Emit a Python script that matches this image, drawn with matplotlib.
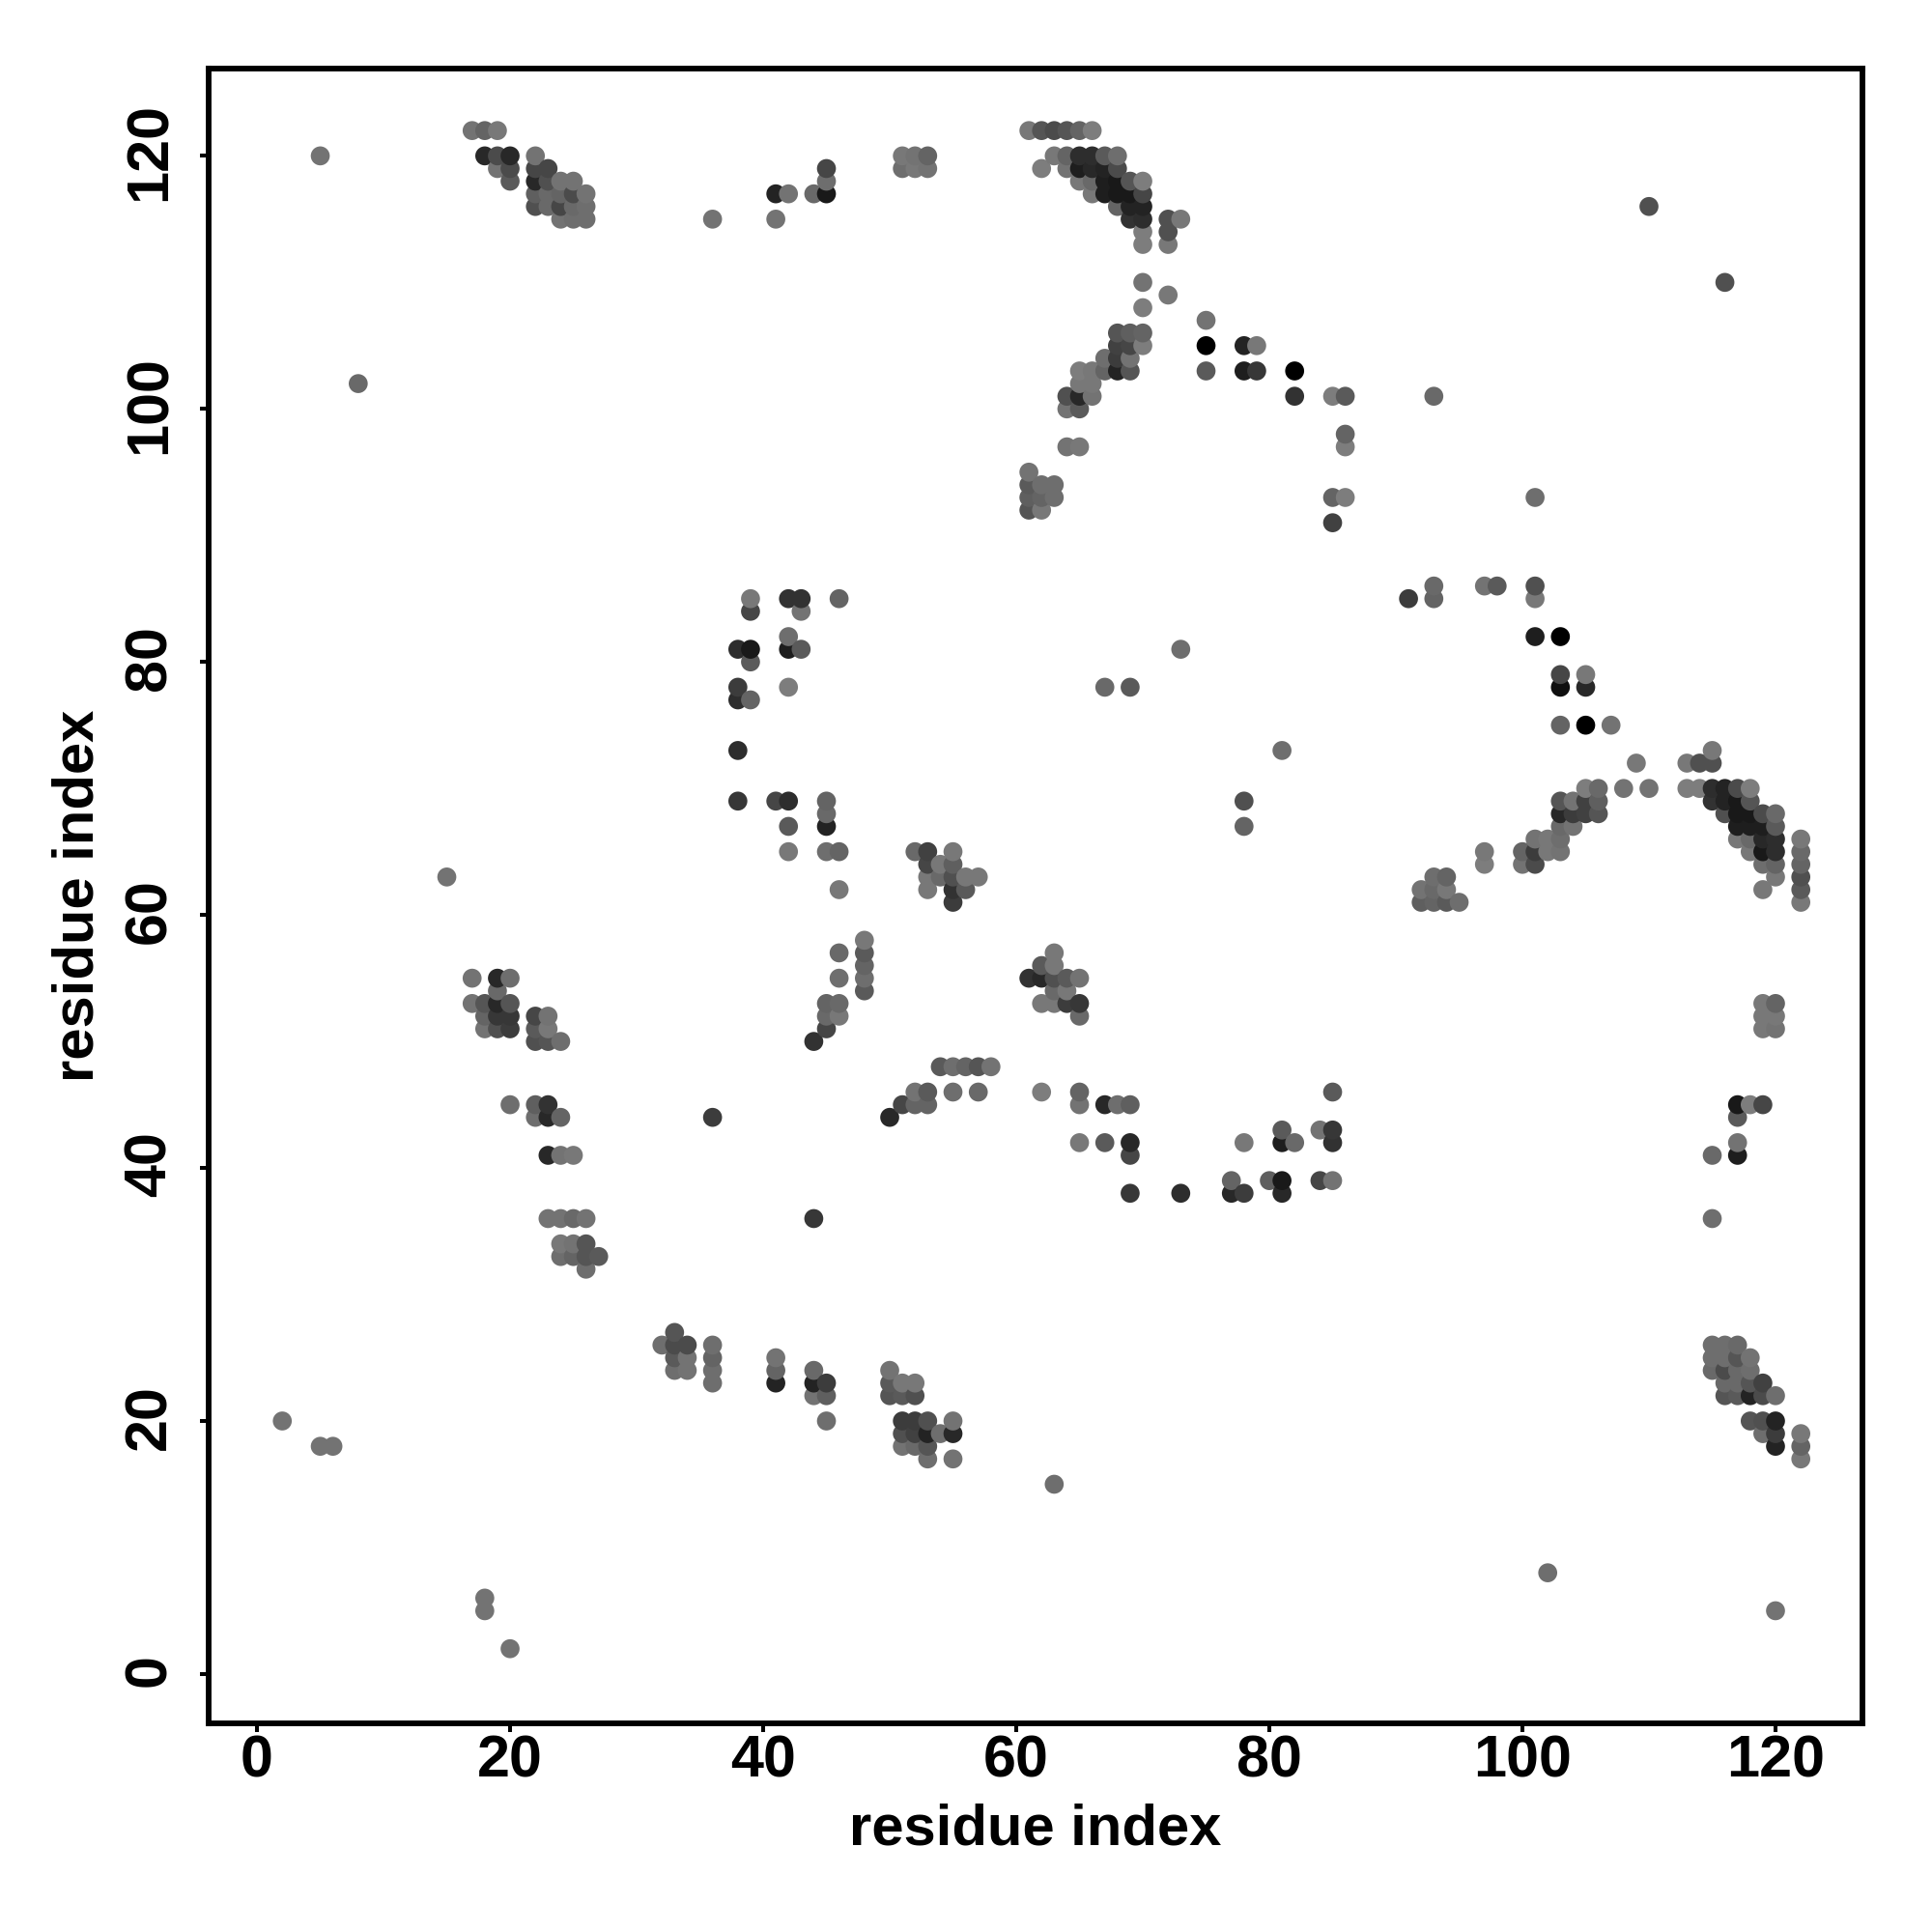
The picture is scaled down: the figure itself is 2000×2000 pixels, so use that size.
# Residue contact map, grey level = contact strength
import numpy as np
import matplotlib
matplotlib.use("Agg")
import matplotlib.pyplot as plt
from matplotlib.transforms import ScaledTranslation

plt.rcParams['font.family'] = ['Liberation Sans', 'DejaVu Sans']

# Contacts row by row: y residue, then x residues and grey (0-255) of each dot
rows = [122, 120, 119, 118, 117, 116, 115, 114, 113, 110, 109, 108, 107, 106, 105,
        104, 103, 102, 101, 100, 98, 97, 95, 94, 93, 92, 91, 86, 85, 84, 82, 81, 80,
        79, 78, 77, 75, 73, 72, 70, 69, 68, 67, 66, 65, 64, 63, 62, 61,
        58, 57, 56, 55, 54, 53, 52, 51, 50, 48, 46, 45, 44, 43, 42, 41, 39, 38, 36,
        34, 33, 32, 27, 26, 25, 24, 23, 22, 20, 19, 18, 17, 15, 8, 6, 5, 2]
row_x = [
    [17, 18, 19, 61, 62, 63, 64, 65, 66],
    [5, 18, 19, 20, 22, 51, 52, 53, 63, 64, 65, 66, 67, 68],
    [19, 20, 22, 23, 45, 51, 52, 53, 62, 64, 65, 66, 67, 68],
    [20, 22, 23, 24, 25, 45, 65, 66, 67, 68, 69, 70],
    [22, 23, 24, 25, 26, 41, 42, 44, 45, 66, 67, 68, 69, 70],
    [22, 23, 24, 25, 26, 68, 69, 70, 110],
    [24, 25, 26, 36, 41, 69, 70, 72, 73],
    [70, 72],
    [70, 72],
    [70, 116],
    [72],
    [70],
    [75],
    [68, 69, 70],
    [68, 69, 70, 75, 78, 79],
    [67, 68, 69],
    [65, 66, 67, 68, 69, 75, 78, 79, 82],
    [8, 65, 66],
    [64, 65, 66, 82, 85, 86, 93],
    [64, 65],
    [86],
    [64, 65, 86],
    [61],
    [61, 62, 63],
    [61, 62, 63, 85, 86, 101],
    [61, 62],
    [85],
    [93, 97, 98, 101],
    [39, 42, 43, 46, 91, 93, 101],
    [39, 43],
    [42, 101, 103],
    [38, 39, 42, 43, 73],
    [39],
    [103, 105],
    [38, 42, 67, 69, 103, 105],
    [38, 39],
    [103, 105, 107],
    [38, 81, 115],
    [109, 113, 114, 115],
    [105, 106, 108, 110, 113, 114, 115, 116, 117, 118],
    [38, 41, 42, 45, 78, 103, 104, 105, 106, 115, 116, 117, 118],
    [45, 103, 104, 105, 106, 116, 117, 118, 119, 120],
    [42, 45, 78, 103, 104, 117, 118, 119, 120],
    [101, 102, 103, 117, 118, 119, 120, 122],
    [42, 45, 46, 52, 53, 55, 97, 100, 101, 102, 103, 118, 119, 120, 122],
    [53, 54, 55, 97, 100, 101, 119, 120, 122],
    [15, 53, 54, 55, 56, 57, 93, 94, 120, 122],
    [46, 53, 55, 56, 92, 93, 94, 119, 122],
    [55, 92, 93, 94, 95, 122],
    [48],
    [46, 48, 63],
    [48, 62, 63],
    [17, 19, 20, 46, 48, 61, 62, 63, 64, 65],
    [19, 48, 63, 64],
    [17, 18, 19, 20, 45, 46, 62, 63, 64, 65, 119, 120],
    [18, 19, 20, 22, 23, 45, 46, 65, 119, 120],
    [18, 19, 20, 22, 23, 45, 119, 120],
    [22, 23, 24, 44],
    [54, 55, 56, 57, 58],
    [52, 53, 55, 57, 62, 65, 85],
    [20, 22, 23, 51, 52, 53, 65, 67, 68, 69, 117, 118, 119],
    [22, 23, 24, 36, 50, 117],
    [81, 84, 85],
    [65, 67, 69, 78, 81, 82, 85, 117],
    [23, 24, 25, 69, 115, 117],
    [77, 80, 81, 84, 85],
    [69, 73, 77, 78, 81],
    [23, 24, 25, 26, 44, 115],
    [24, 25, 26],
    [24, 25, 26, 27],
    [26],
    [33],
    [32, 33, 34, 36, 115, 116, 117],
    [33, 34, 36, 41, 115, 116, 117, 118],
    [33, 34, 36, 41, 44, 50, 115, 116, 117, 118],
    [36, 41, 44, 45, 50, 51, 52, 116, 117, 118, 119],
    [44, 45, 50, 51, 52, 116, 117, 118, 119, 120],
    [2, 45, 51, 52, 53, 55, 118, 119, 120],
    [51, 52, 53, 54, 55, 119, 120, 122],
    [5, 6, 51, 52, 53, 120, 122],
    [53, 55, 122],
    [63],
    [102],
    [18],
    [18, 120],
    [20],
]
row_shade = [
    [115, 100, 120, 120, 85, 75, 85, 100, 125],
    [115, 40, 75, 40, 115, 120, 115, 100, 120, 100, 45, 45, 90, 110],
    [115, 75, 70, 70, 70, 110, 120, 115, 125, 115, 30, 40, 35, 75],
    [90, 40, 80, 115, 115, 110, 120, 105, 30, 25, 85, 125],
    [95, 105, 100, 75, 115, 35, 115, 105, 25, 120, 30, 25, 25, 70],
    [80, 105, 70, 105, 110, 100, 35, 35, 80],
    [115, 110, 110, 115, 115, 50, 45, 80, 120],
    [125, 80],
    [125, 120],
    [115, 80],
    [120],
    [125],
    [115],
    [85, 95, 100],
    [65, 70, 125, 0, 35, 120],
    [110, 60, 115],
    [125, 120, 100, 35, 85, 90, 30, 55, 0],
    [105, 120, 120],
    [80, 40, 115, 50, 125, 90, 105],
    [115, 90],
    [100],
    [115, 120, 125],
    [115],
    [90, 110, 110],
    [95, 100, 110, 100, 125, 110],
    [85, 120],
    [65],
    [105, 115, 90, 80],
    [120, 50, 50, 100, 60, 100, 120],
    [70, 115],
    [110, 30, 0],
    [45, 25, 30, 90, 110],
    [90],
    [70, 120],
    [60, 125, 105, 90, 15, 40],
    [45, 100],
    [100, 0, 115],
    [45, 110, 120],
    [120, 120, 80, 80],
    [125, 105, 115, 115, 125, 125, 45, 35, 75, 125],
    [55, 70, 45, 100, 80, 85, 115, 65, 95, 50, 35, 25, 85],
    [105, 40, 60, 65, 85, 80, 25, 25, 75, 105],
    [90, 35, 100, 105, 115, 30, 30, 30, 90],
    [115, 120, 110, 120, 105, 40, 45, 120],
    [120, 110, 100, 105, 65, 120, 120, 100, 60, 120, 115, 120, 25, 45, 105],
    [70, 120, 95, 125, 115, 75, 110, 100, 100],
    [115, 120, 105, 80, 120, 120, 110, 100, 120, 80],
    [120, 120, 50, 90, 115, 105, 120, 120, 90],
    [60, 95, 100, 90, 110, 120],
    [120],
    [105, 90, 120],
    [100, 90, 120],
    [115, 40, 110, 110, 110, 50, 40, 80, 90, 115],
    [105, 90, 105, 120],
    [115, 85, 40, 85, 100, 105, 120, 120, 60, 55, 120, 100],
    [100, 55, 55, 70, 115, 105, 120, 105, 120, 120],
    [115, 80, 60, 90, 120, 70, 120, 115],
    [80, 85, 110, 50],
    [90, 110, 100, 85, 115],
    [115, 90, 110, 105, 125, 100, 90],
    [110, 95, 50, 70, 100, 100, 115, 40, 110, 95, 25, 125, 70],
    [110, 40, 100, 60, 40, 90],
    [90, 115, 55],
    [120, 90, 40, 120, 30, 105, 50, 115],
    [40, 115, 120, 70, 105, 30],
    [100, 95, 25, 70, 115],
    [55, 45, 40, 60, 40],
    [115, 115, 105, 115, 55, 110],
    [120, 115, 85],
    [110, 100, 85, 90],
    [110],
    [85],
    [110, 75, 75, 110, 110, 110, 105],
    [90, 115, 100, 115, 110, 110, 85, 115],
    [110, 115, 110, 100, 105, 115, 105, 75, 105, 110],
    [110, 35, 35, 60, 90, 120, 120, 105, 105, 85, 65],
    [115, 95, 85, 90, 80, 85, 90, 35, 75, 110],
    [115, 110, 60, 60, 80, 115, 85, 80, 35],
    [80, 65, 35, 110, 40, 110, 60, 120],
    [115, 115, 115, 105, 85, 35, 100],
    [110, 115, 120],
    [110],
    [110],
    [115],
    [115, 115],
    [115],
]
tick_values = [0, 20, 40, 60, 80, 100, 120]

xs, ys, greys = [], [], []
for y, x_list, shade_list in zip(rows, row_x, row_shade):
    for x, s in zip(x_list, shade_list):
        xs.append(x)
        ys.append(y)
        greys.append(s)
xs = np.array(xs)
ys = np.array(ys)
greys = np.array(greys) / 255

# dots are painted column by column, bottom to top
order = np.lexsort((ys, xs))

fig = plt.figure(figsize=(10, 10), dpi=200)
ax = fig.add_axes([0.108, 0.108, 0.856, 0.8565])
ax.scatter(xs[order], ys[order], s=50, c=np.column_stack([greys[order]] * 3),
           linewidths=0, zorder=3)

ax.set_xlim(-3.82, 126.87)
ax.set_ylim(-3.9, 126.9)
ax.set_xticks(tick_values)
ax.set_yticks(tick_values)
ax.tick_params(length=3.3, width=1.45, labelsize=22)
ax.tick_params(axis='x', pad=1)
ax.tick_params(axis='y', pad=8)

# rotated y labels sit slightly above their ticks
shift_up = ScaledTranslation(0, 4 / 200, fig.dpi_scale_trans)
for label in ax.get_xticklabels():
    label.set_fontweight('bold')
for label in ax.get_yticklabels():
    label.set_fontweight('bold')
    label.set_rotation(90)
    label.set_va('center')
    label.set_transform(label.get_transform() + shift_up)
for spine in ax.spines.values():
    spine.set_linewidth(2.1)

ax.set_xlabel('residue index', fontsize=21.5, fontweight='bold', labelpad=5)
ax.set_ylabel('residue index', fontsize=21.5, fontweight='bold', labelpad=7)

fig.savefig('out.png', dpi=200)
